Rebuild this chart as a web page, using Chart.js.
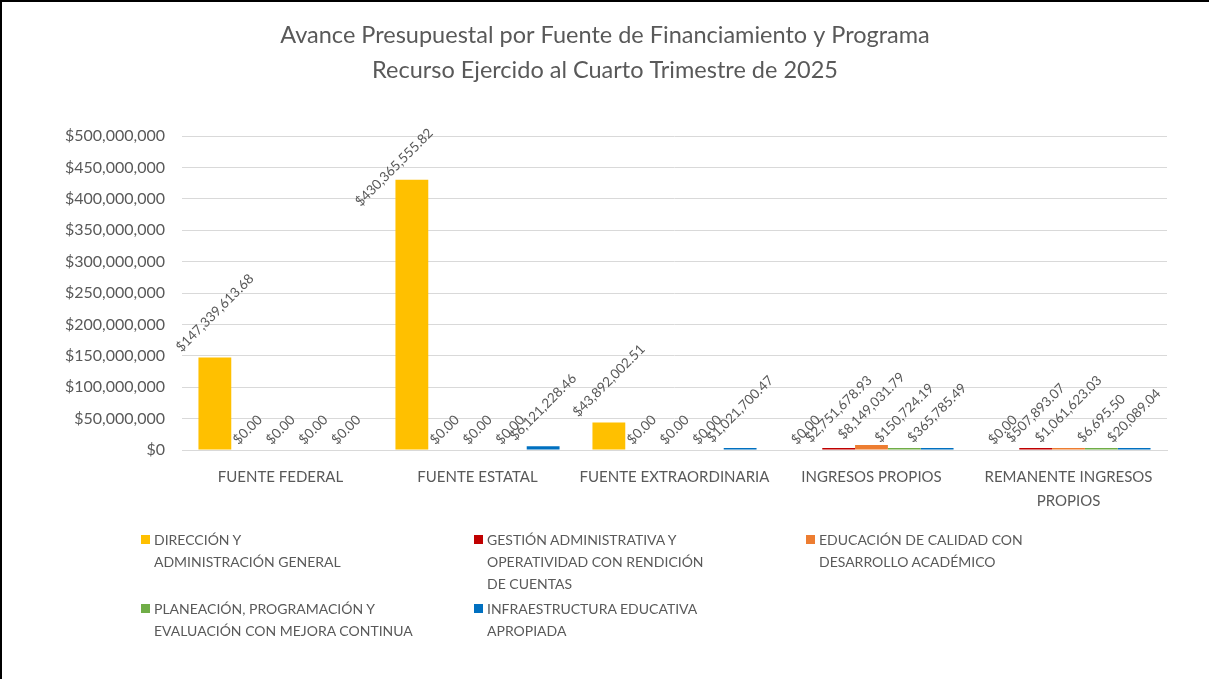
<!DOCTYPE html>
<html>
<head>
<meta charset="utf-8">
<script src="https://cdn.jsdelivr.net/npm/chart.js@4.4.1/dist/chart.umd.min.js"></script>
<style>
  html, body { margin: 0; padding: 0; background: #fff; }
  #wrap { position: relative; width: 1209px; height: 679px; overflow: hidden; }
  #wrap:after { content: ''; position: absolute; left: 0; top: 0; right: 0; bottom: 0;
    border-left: 2px solid #000; border-top: 2px solid #000; pointer-events: none; }
  #legend { position: absolute; left: 0; top: 0; font-family: Lato, sans-serif; font-size: 14px; color: #595959; }
  .item { position: absolute; line-height: 22px; white-space: nowrap; }
  .box { position: absolute; width: 9px; height: 9px; }
</style>
</head>
<body>
<div id="wrap">
  <canvas id="grafica"></canvas>
  <div id="legend"></div>
</div>
<script>
// datos
const titulo = ['Avance Presupuestal por Fuente de Financiamiento y Programa', 'Recurso Ejercido al Cuarto Trimestre de 2025'];
const fuentes = ['FUENTE FEDERAL', 'FUENTE ESTATAL', 'FUENTE EXTRAORDINARIA', 'INGRESOS PROPIOS', ['REMANENTE INGRESOS', 'PROPIOS']];
const programas = [
  ['DIRECCIÓN Y', 'ADMINISTRACIÓN GENERAL'],
  ['GESTIÓN ADMINISTRATIVA Y', 'OPERATIVIDAD CON RENDICIÓN', 'DE CUENTAS'],
  ['EDUCACIÓN DE CALIDAD CON', 'DESARROLLO ACADÉMICO'],
  ['PLANEACIÓN, PROGRAMACIÓN Y', 'EVALUACIÓN CON MEJORA CONTINUA'],
  ['INFRAESTRUCTURA EDUCATIVA', 'APROPIADA']
];
const direccion       = [147339613.68, 430365555.82, 43892002.51, 0, 0];
const gestion         = [0, 0, 0, 2751678.93, 507893.07];
const educacion       = [0, 0, 0, 8149031.79, 1061623.03];
const planeacion      = [0, 0, 0, 150724.19, 6695.50];
const infraestructura = [0, 6121228.46, 1021700.47, 365785.49, 20089.04];
const colores = ['#FFC000', '#C00000', '#ED7D31', '#70AD47', '#0070C0'];
const ejeMax = 500000000;
const ejePaso = 50000000;

const series = [direccion, gestion, educacion, planeacion, infraestructura];
const gris = '#595959';
const fuente = 'Lato, sans-serif';

const moneda = (v, dec) => '$' + v.toLocaleString('en-US', { minimumFractionDigits: dec, maximumFractionDigits: dec });

const tituloPlugin = {
  id: 'tituloPlugin',
  afterDraw(chart) {
    const ctx = chart.ctx;
    ctx.save();
    ctx.font = '23.5px ' + fuente;
    ctx.fillStyle = gris;
    ctx.textAlign = 'center';
    ctx.textBaseline = 'middle';
    ctx.fillText(titulo[0], 605, 35);
    ctx.fillText(titulo[1], 605, 70);
    ctx.restore();
  }
};

// etiquetas de datos giradas 45 grados
const etiquetas = {
  id: 'etiquetas',
  afterDatasetsDraw(chart) {
    const ctx = chart.ctx;
    const y = chart.scales.y;
    const limite = chart.chartArea.top - 10;
    ctx.save();
    ctx.font = '13.5px ' + fuente;
    ctx.fillStyle = gris;
    ctx.textAlign = 'center';
    ctx.textBaseline = 'middle';
    series.forEach((vals, i) => {
      const meta = chart.getDatasetMeta(i);
      vals.forEach((v, j) => {
        const bar = meta.data[j];
        const txt = moneda(v, 2);
        const w = ctx.measureText(txt).width;
        const half = (w + 14) * Math.SQRT1_2 / 2;
        const tope = Math.min(y.getPixelForValue(v), y.getPixelForValue(0) - (v > 0 ? 2 : 0));
        let cx = bar.x, cy = tope - half - 3;
        // si se sale por arriba, se baja a lo largo de la diagonal
        if (cy - half < limite) {
          const d = limite - (cy - half);
          cy += d;
          cx -= d * 0.55;
        }
        ctx.save();
        ctx.translate(cx, cy);
        ctx.rotate(-Math.PI / 4);
        ctx.fillText(txt, 0, 0);
        ctx.restore();
      });
    });
    ctx.restore();
  }
};

new Chart(document.getElementById('grafica'), {
  type: 'bar',
  data: {
    labels: fuentes,
    datasets: series.map((vals, i) => ({
      label: programas[i].join(' '),
      data: vals.map(v => v === 0 ? null : v),
      backgroundColor: colores[i],
      borderWidth: 0,
      minBarLength: 2,
      categoryPercentage: 0.833,
      barPercentage: 1
    }))
  },
  options: {
    responsive: true,
    maintainAspectRatio: false,
    animation: false,
    layout: { padding: { left: 0, right: 42, top: 136, bottom: 149 } },
    plugins: { legend: { display: false }, title: { display: false }, tooltip: { enabled: false } },
    scales: {
      x: {
        grid: { display: false },
        border: { color: '#d9d9d9', width: 1 },
        ticks: { color: gris, font: { family: fuente, size: 15, lineHeight: 1.6 }, padding: 7, maxRotation: 0, autoSkip: false },
        afterFit: s => { s.height = 80; }
      },
      y: {
        min: 0,
        max: ejeMax,
        border: { display: false },
        grid: { color: '#d9d9d9', drawTicks: false },
        ticks: { stepSize: ejePaso, color: gris, font: { family: fuente, size: 16 }, padding: 17,
          callback: v => moneda(v, 0) },
        afterFit: s => { s.width = 182; }
      }
    }
  },
  plugins: [tituloPlugin, etiquetas]
});

// leyenda en 3 columnas
const leyenda = document.getElementById('legend');
const colX = [141, 474, 806];
const filaY = [529, 598];
programas.forEach((lineas, i) => {
  const x = colX[i % 3], yy = filaY[Math.floor(i / 3)];
  const caja = document.createElement('div');
  caja.className = 'box';
  caja.style.left = x + 'px';
  caja.style.top = (yy + 6) + 'px';
  caja.style.background = colores[i];
  const txt = document.createElement('div');
  txt.className = 'item';
  txt.style.left = (x + 13) + 'px';
  txt.style.top = yy + 'px';
  txt.innerHTML = lineas.join('<br>');
  leyenda.appendChild(caja);
  leyenda.appendChild(txt);
});
</script>
</body>
</html>
